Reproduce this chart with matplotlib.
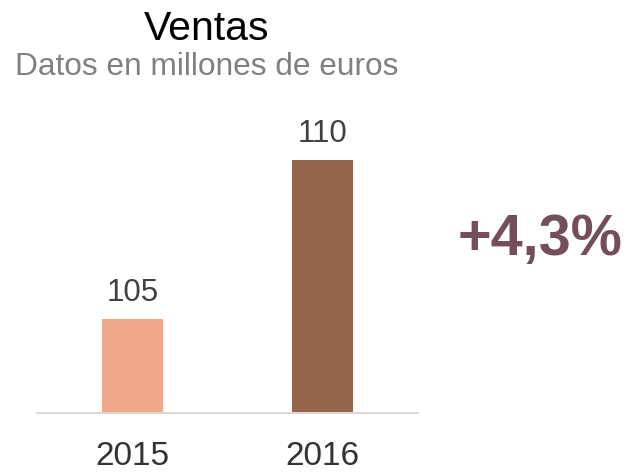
import numpy as np
import matplotlib
matplotlib.use("Agg")
import matplotlib.pyplot as plt

# datos del gráfico
years = ["2015", "2016"]
sales = [105, 110]
bar_colors = ["#F0A888", "#95664C"]
change_label = "+4,3%"

plt.rcParams["font.family"] = ["Liberation Sans", "DejaVu Sans"]

W, H = 630, 472
fig = plt.figure(figsize=(W / 100, H / 100), dpi=100)

# ejes colocados en píxeles: línea base en y=413, de x=37 a x=418
ax = fig.add_axes([37 / W, 59 / H, (418 - 37) / W, (413 - 64.6) / H])
x = np.arange(len(years))
bars = ax.bar(x, sales, width=0.32, color=bar_colors)
ax.set_xlim(-0.5, 1.5)
ax.set_ylim(102.04, 113)

# etiquetas de valor encima de cada barra
for xi, v in zip(x, sales):
    ax.annotate(f"{v}", (xi, v), xytext=(0, 13), textcoords="offset points",
                ha="center", va="baseline", fontsize=22.5, color="#404040")

for side in ["top", "right", "left"]:
    ax.spines[side].set_visible(False)
ax.spines["bottom"].set_color("#d9d9d9")
ax.spines["bottom"].set_linewidth(1.5)
ax.set_yticks([])
ax.set_xticks(x)
ax.set_xticklabels(years, fontsize=24, color="#333333")
ax.tick_params(axis="x", length=0, pad=20)

# título y subtítulo
fig.text(206.5 / W, 1 - 40 / H, "Ventas", ha="center", va="baseline",
         fontsize=29.5, color="#000000")
fig.text(206.5 / W, 1 - 75 / H, "Datos en millones de euros", ha="center",
         va="baseline", fontsize=22.8, color="#808080")

# variación porcentual
fig.text(540 / W, 1 - 255 / H, change_label, ha="center", va="baseline",
         fontsize=41.5, fontweight="bold", color="#744E58")

fig.savefig("out.png", dpi=100)
